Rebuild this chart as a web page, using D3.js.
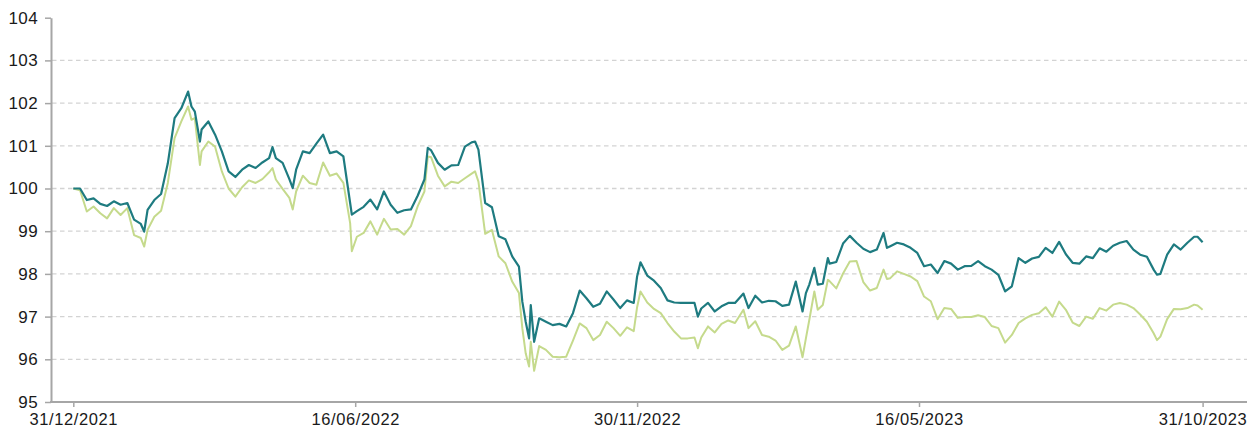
<!DOCTYPE html>
<html>
<head>
<meta charset="utf-8">
<script src="https://cdn.jsdelivr.net/npm/d3@7"></script>
<style>
  html, body { margin: 0; padding: 0; background: #fff; }
  svg { display: block; }
  text { font-family: "Liberation Sans", Arial, sans-serif; fill: #1a1a1a; }
</style>
</head>
<body>
<svg id="chart" width="1250" height="429"></svg>
<script>
// ---- data ----
const dates = [
"2021-12-31","2022-01-04","2022-01-08","2022-01-12","2022-01-16","2022-01-20","2022-01-24","2022-01-28","2022-02-01","2022-02-05",
"2022-02-09","2022-02-11","2022-02-13","2022-02-17","2022-02-21","2022-02-25","2022-03-01","2022-03-05","2022-03-09","2022-03-11",
"2022-03-13","2022-03-16","2022-03-17","2022-03-21","2022-03-25","2022-03-29","2022-04-02","2022-04-06","2022-04-10","2022-04-14",
"2022-04-18","2022-04-22","2022-04-26","2022-04-28","2022-04-30","2022-05-04","2022-05-08","2022-05-10","2022-05-12","2022-05-16",
"2022-05-20","2022-05-24","2022-05-28","2022-06-01","2022-06-05","2022-06-09","2022-06-13","2022-06-14","2022-06-17","2022-06-21",
"2022-06-25","2022-06-29","2022-07-03","2022-07-07","2022-07-11","2022-07-15","2022-07-19","2022-07-23","2022-07-27","2022-07-29",
"2022-07-31","2022-08-04","2022-08-08","2022-08-12","2022-08-16","2022-08-20","2022-08-24","2022-08-26","2022-08-28","2022-09-01",
"2022-09-05","2022-09-09","2022-09-13","2022-09-17","2022-09-21","2022-09-23","2022-09-25","2022-09-27","2022-09-28","2022-09-30",
"2022-10-03","2022-10-07","2022-10-11","2022-10-15","2022-10-19","2022-10-23","2022-10-27","2022-10-31","2022-11-04","2022-11-08",
"2022-11-12","2022-11-16","2022-11-20","2022-11-24","2022-11-28","2022-11-30","2022-12-02","2022-12-06","2022-12-10","2022-12-14",
"2022-12-18","2022-12-22","2022-12-26","2022-12-30","2023-01-03","2023-01-05","2023-01-07","2023-01-11","2023-01-15","2023-01-19",
"2023-01-23","2023-01-27","2023-02-01","2023-02-04","2023-02-08","2023-02-12","2023-02-16","2023-02-20","2023-02-24","2023-02-28",
"2023-03-04","2023-03-08","2023-03-10","2023-03-12","2023-03-15","2023-03-17","2023-03-20","2023-03-23","2023-03-24","2023-03-28",
"2023-04-01","2023-04-05","2023-04-09","2023-04-13","2023-04-17","2023-04-21","2023-04-25","2023-04-27","2023-04-29","2023-05-03",
"2023-05-07","2023-05-11","2023-05-15","2023-05-19","2023-05-23","2023-05-27","2023-05-31","2023-06-04","2023-06-08","2023-06-12",
"2023-06-16","2023-06-20","2023-06-24","2023-06-28","2023-07-02","2023-07-06","2023-07-10","2023-07-14","2023-07-18","2023-07-22",
"2023-07-26","2023-07-30","2023-08-03","2023-08-07","2023-08-11","2023-08-15","2023-08-19","2023-08-23","2023-08-27","2023-08-31",
"2023-09-04","2023-09-08","2023-09-12","2023-09-16","2023-09-20","2023-09-24","2023-09-28","2023-10-02","2023-10-04","2023-10-06",
"2023-10-10","2023-10-14","2023-10-18","2023-10-22","2023-10-26","2023-10-28","2023-10-31"
];
const seriesTeal = [
100.00,100.00,99.73,99.77,99.64,99.59,99.70,99.62,99.66,99.27,
99.17,98.99,99.50,99.73,99.87,100.59,101.65,101.88,102.27,101.92,
101.80,101.10,101.38,101.57,101.26,100.87,100.40,100.27,100.44,100.55,
100.48,100.61,100.71,100.97,100.71,100.60,100.22,100.01,100.44,100.87,
100.83,101.05,101.26,100.83,100.87,100.75,99.66,99.39,99.47,99.57,
99.74,99.51,99.93,99.62,99.43,99.49,99.51,99.83,100.21,100.95,
100.89,100.60,100.44,100.54,100.55,100.98,101.08,101.10,100.91,99.66,
99.56,98.88,98.81,98.41,98.17,97.35,96.88,96.49,97.27,96.41,
96.96,96.88,96.80,96.83,96.77,97.08,97.61,97.43,97.23,97.30,
97.59,97.40,97.20,97.38,97.32,97.94,98.27,97.96,97.84,97.67,
97.38,97.33,97.32,97.32,97.32,97.00,97.19,97.32,97.12,97.24,
97.32,97.32,97.54,97.20,97.49,97.33,97.37,97.36,97.25,97.28,
97.82,97.12,97.55,97.75,98.14,97.75,97.77,98.37,98.24,98.28,
98.71,98.89,98.73,98.59,98.51,98.57,98.96,98.61,98.65,98.73,
98.69,98.61,98.49,98.18,98.22,98.02,98.30,98.24,98.10,98.18,
98.19,98.30,98.18,98.10,97.98,97.59,97.71,98.37,98.26,98.36,
98.40,98.61,98.49,98.75,98.46,98.26,98.24,98.41,98.37,98.60,
98.52,98.66,98.73,98.77,98.57,98.45,98.40,98.10,97.98,98.00,
98.45,98.69,98.57,98.73,98.87,98.87,98.74
];
const seriesGreen = [
100.00,99.96,99.46,99.58,99.42,99.30,99.54,99.38,99.54,98.91,
98.84,98.64,99.03,99.34,99.48,100.13,101.18,101.57,101.92,101.61,
101.65,100.55,100.87,101.10,100.98,100.40,100.00,99.81,100.03,100.19,
100.13,100.22,100.38,100.48,100.21,99.99,99.78,99.51,99.93,100.30,
100.13,100.09,100.61,100.30,100.35,100.13,99.19,98.53,98.87,98.96,
99.23,98.92,99.29,99.04,99.05,98.92,99.12,99.58,99.93,100.75,
100.73,100.30,100.05,100.16,100.13,100.24,100.35,100.40,100.16,98.94,
99.03,98.41,98.25,97.82,97.55,96.73,96.14,95.83,96.41,95.73,
96.31,96.22,96.06,96.05,96.06,96.44,96.84,96.73,96.45,96.57,
96.88,96.73,96.55,96.75,96.66,97.22,97.59,97.33,97.18,97.08,
96.85,96.65,96.49,96.49,96.51,96.26,96.51,96.77,96.63,96.83,
96.91,96.85,97.16,96.73,96.89,96.57,96.53,96.44,96.22,96.32,
96.77,96.05,96.49,96.92,97.59,97.16,97.27,97.86,97.83,97.66,
98.01,98.29,98.30,97.81,97.61,97.67,98.10,97.88,97.90,98.06,
98.00,97.94,97.83,97.47,97.36,96.94,97.20,97.18,96.97,96.99,
96.99,97.03,96.99,96.78,96.73,96.39,96.57,96.85,96.96,97.04,
97.08,97.22,97.00,97.35,97.16,96.86,96.78,97.00,96.95,97.20,
97.14,97.28,97.32,97.28,97.20,97.05,96.88,96.61,96.45,96.53,
96.94,97.18,97.17,97.20,97.28,97.26,97.16
];
const yTicks = [95, 96, 97, 98, 99, 100, 101, 102, 103, 104];
const xTickLabels = ["31/12/2021", "16/06/2022", "30/11/2022", "16/05/2023", "31/10/2023"];

// ---- chart ----
const svg = d3.select("#chart");
const parse = d3.timeParse("%Y-%m-%d");
const parseLabel = d3.timeParse("%d/%m/%Y");
const fmtLabel = d3.timeFormat("%d/%m/%Y");

const axisX0 = 51, axisX1 = 1247;
const x = d3.scaleTime()
  .domain([parse("2021-12-31"), parse("2023-10-31")])
  .range([73.3, 1202.6]);
const y = d3.scaleLinear().domain([95, 104]).range([402, 17.7]);

// gridlines
svg.append("g").selectAll("line")
  .data(yTicks.filter(v => v > 95 && v < 104))
  .join("line")
  .attr("x1", axisX0 + 1).attr("x2", axisX1)
  .attr("y1", d => y(d)).attr("y2", d => y(d))
  .attr("stroke", "#d3d3d3").attr("stroke-width", 1.3)
  .attr("stroke-dasharray", "4.5,3.5");

// y axis
const yAxis = d3.axisLeft(y).tickValues(yTicks).tickSize(6).tickSizeOuter(0).tickPadding(7);
const gy = svg.append("g").attr("transform", `translate(${axisX0},0)`).call(yAxis);
gy.select(".domain").attr("stroke", "#a6a6a6").attr("stroke-width", 2);
gy.selectAll(".tick line").attr("stroke", "#a6a6a6").attr("stroke-width", 1.5);
gy.selectAll(".tick text").attr("font-size", 17).attr("fill", "#1a1a1a")
  .style("letter-spacing", "0.4px")
  .style("font-family", "'Liberation Sans', Arial, sans-serif");

// x axis
const xAxis = d3.axisBottom(x)
  .tickValues(xTickLabels.map(parseLabel))
  .tickFormat(fmtLabel)
  .tickSize(5).tickSizeOuter(0).tickPadding(6);
const gx = svg.append("g").attr("transform", `translate(0,${y(95)})`).call(xAxis);
gx.select(".domain").remove();
gx.append("line").attr("x1", axisX0 - 1).attr("x2", axisX1).attr("y1", 0).attr("y2", 0)
  .attr("stroke", "#a6a6a6").attr("stroke-width", 2);
gx.selectAll(".tick line").attr("stroke", "#a6a6a6").attr("stroke-width", 1.5);
gx.selectAll(".tick text").attr("font-size", 16.5).attr("fill", "#1a1a1a")
  .style("letter-spacing", "0.6px")
  .style("font-family", "'Liberation Sans', Arial, sans-serif");

// lines
const greenData = dates.map((d, i) => ({ date: parse(d), v: seriesGreen[i] }));
const tealData = dates.map((d, i) => ({ date: parse(d), v: seriesTeal[i] }));
const line = d3.line().x(d => x(d.date)).y(d => y(d.v));

svg.append("path").datum(greenData).attr("d", line)
  .attr("fill", "none").attr("stroke", "#c5da8c").attr("stroke-width", 2)
  .attr("stroke-linejoin", "round");
svg.append("path").datum(tealData).attr("d", line)
  .attr("fill", "none").attr("stroke", "#1e7b80").attr("stroke-width", 2.2)
  .attr("stroke-linejoin", "round");
</script>
</body>
</html>
